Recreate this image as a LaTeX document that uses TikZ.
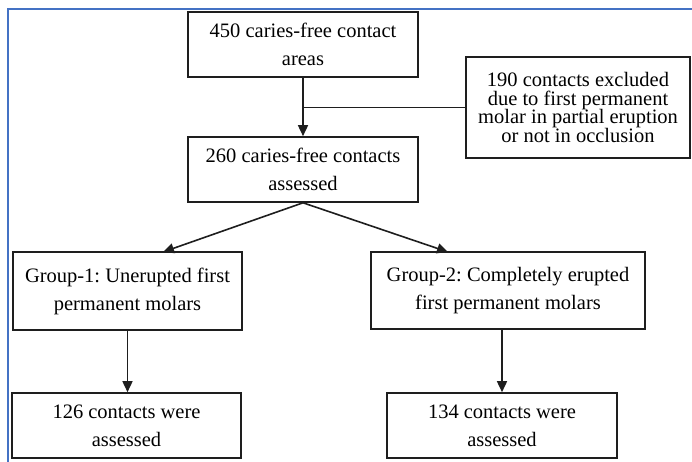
\documentclass[tikz,border=0pt]{standalone}
\usepackage{fontspec}
\setmainfont{Liberation Serif}
\usetikzlibrary{arrows.meta,calc}
\definecolor{frameblue}{RGB}{68,114,196}
\definecolor{boxline}{RGB}{30,30,30}
\frenchspacing

\begin{document}
\begin{tikzpicture}[x=1pt, y=-1pt,
    box/.style={draw=boxline, line width=1.6pt, align=center, inner sep=2pt,
      font=\rmfamily\fontsize{20.5}{28}\selectfont},
    arr/.style={draw=boxline, line width=1.6pt, -{Triangle[length=11pt,width=10pt]}}]
  \useasboundingbox (0,0) rectangle (692,462);
  % page frame
  \draw[frameblue, line width=1.4pt] (8,462) -- (8,9) -- (692,9);

  % boxes
  \node[box, minimum width=230pt, minimum height=65pt] (areas) at (303,44.5)
    {450 caries-free contact\\areas};
  \node[box, minimum width=224pt, minimum height=101pt,
    font=\rmfamily\fontsize{20.5}{18.6}\selectfont] (excl) at (578,107.5)
    {190 contacts excluded\\due to first permanent\\molar in partial eruption\\or not in occlusion};
  \node[box, minimum width=230pt, minimum height=65pt] (assessed) at (303,169.5)
    {260 caries-free contacts\\assessed};
  \node[box, minimum width=229pt, minimum height=78pt] (grpone) at (127.5,291)
    {Group-1: Unerupted first\\permanent molars};
  \node[box, minimum width=274pt, minimum height=77pt] (grptwo) at (508,290.5)
    {Group-2: Completely erupted\\first permanent molars};
  \node[box, minimum width=229pt, minimum height=65pt] (resone) at (126.5,425.5)
    {126 contacts were\\assessed};
  \node[box, minimum width=230pt, minimum height=65pt] (restwo) at (502,425.5)
    {134 contacts were\\assessed};

  % connectors
  \coordinate (split) at (areas.south |- excl.west);
  \coordinate (oneIn) at (163,252);
  \coordinate (twoIn) at (448,252);
  \draw[arr] (areas.south) -- (assessed.north);
  \draw[boxline, line width=0.9pt] (split) -- (excl.west);
  \draw[arr] (assessed.south) -- (oneIn);
  \draw[arr] (assessed.south) -- (twoIn);
  \draw[arr] (grpone.south) -- (grpone.south |- resone.north);
  \draw[arr] (restwo.north |- grptwo.south) -- (restwo.north);
\end{tikzpicture}
\end{document}
